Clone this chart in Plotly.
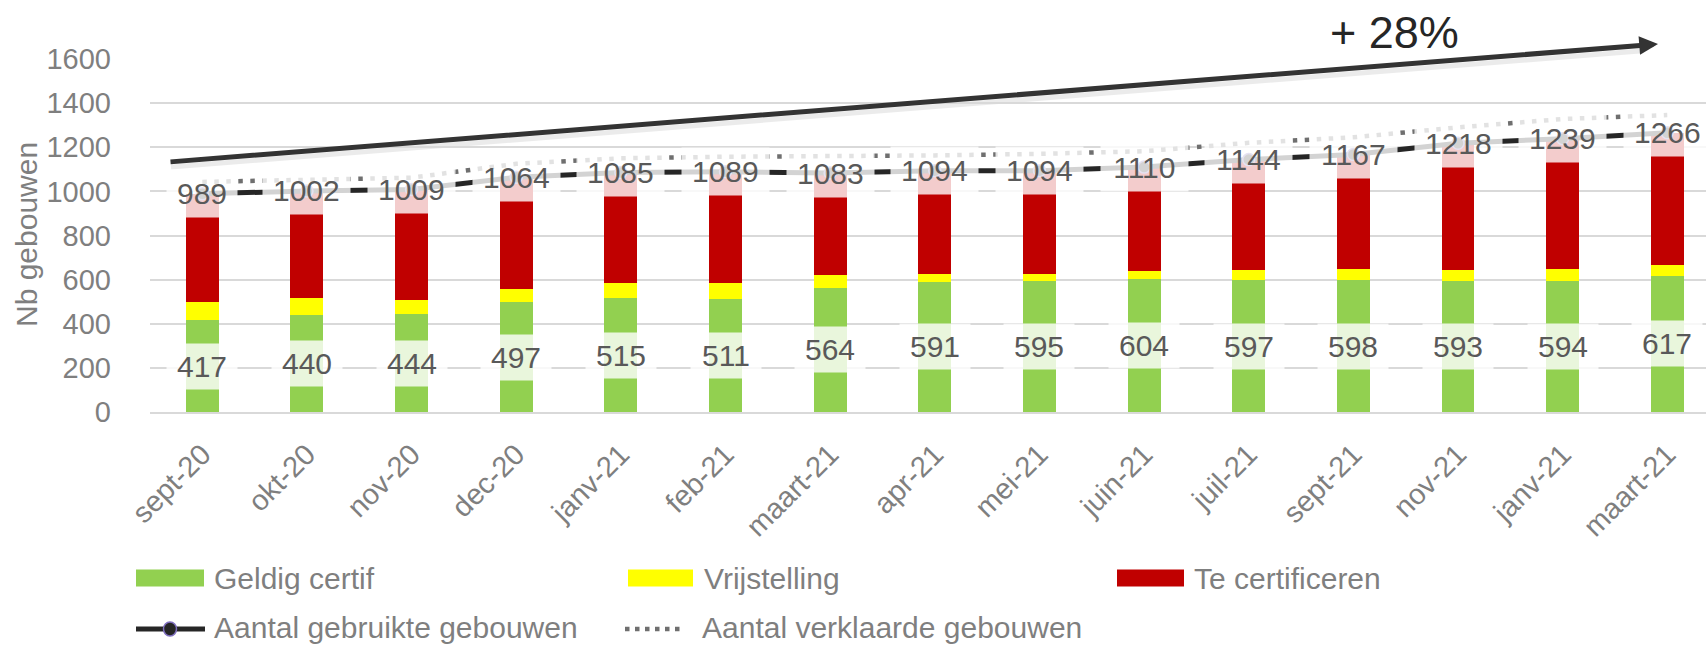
import plotly.graph_objects as go

# ---------------- data ----------------
categories = ["sept-20", "okt-20", "nov-20", "dec-20", "janv-21", "feb-21", "maart-21",
              "apr-21", "mei-21", "juin-21", "juil-21", "sept-21", "nov-21", "janv-21", "maart-21"]
geldig_certif = [417, 440, 444, 497, 515, 511, 564, 591, 595, 604, 597, 598, 593, 594, 617]
vrijstelling = [81, 77, 63, 60, 68, 72, 55, 33, 32, 37, 47, 49, 50, 52, 48]
te_certificeren = [491, 485, 502, 507, 502, 506, 464, 470, 467, 469, 500, 520, 575, 593, 601]
aantal_gebruikte = [989, 1002, 1009, 1064, 1085, 1089, 1083, 1094, 1094, 1110, 1144, 1167, 1218, 1239, 1266]
aantal_verklaarde = [1043, 1053, 1062, 1125, 1150, 1157, 1158, 1163, 1170, 1182, 1220, 1245, 1290, 1328, 1346]
y_ticks = [0, 200, 400, 600, 800, 1000, 1200, 1400, 1600]
trend_label = "+ 28%"
y_title = "Nb gebouwen"
series_names = ["Geldig certif", "Vrijstelling", "Te certificeren",
                "Aantal gebruikte gebouwen", "Aantal verklaarde gebouwen"]

# ---------------- layout constants ----------------
FW, FH = 1706, 646
PL, PR, PT, PB = 150, 1706, 59, 412
PW, PH = PR - PL, PB - PT
FONT = "Arial, 'Liberation Sans', sans-serif"
GREEN, YELLOW, RED = "#92d050", "#ffff00", "#c00000"
DARK = "#262626"
GREY_TXT = "#7f7f7f"
LBL_TXT = "#595959"


def fpx(x):
    return (x - PL) / PW


def fpy(y):
    return (PB - y) / PH


x_idx = list(range(len(categories)))

fig = go.Figure()
fig.add_trace(go.Bar(x=x_idx, y=geldig_certif, name=series_names[0], marker_color=GREEN,
                     marker_line_width=0, showlegend=False))
fig.add_trace(go.Bar(x=x_idx, y=vrijstelling, name=series_names[1], marker_color=YELLOW,
                     marker_line_width=0, showlegend=False))
fig.add_trace(go.Bar(x=x_idx, y=te_certificeren, name=series_names[2], marker_color=RED,
                     marker_line_width=0, showlegend=False))
fig.add_trace(go.Scatter(x=x_idx, y=aantal_verklaarde, name=series_names[4], mode="lines",
                         line=dict(color="#6f6f6f", width=4.5, dash="4.5px,7.5px"),
                         showlegend=False))
fig.add_trace(go.Scatter(x=x_idx, y=aantal_gebruikte, name=series_names[3], mode="lines+markers",
                         line=dict(color=DARK, width=5),
                         marker=dict(size=12, color=DARK, line=dict(color="#7f6fbf", width=1.5)),
                         showlegend=False))

annotations = []


def label_width(v):
    return len(str(v)) * 0.556 * 30 + 20


# labels in the green segment
for i, g in enumerate(geldig_certif):
    annotations.append(dict(x=i, y=g / 2, xref="x", yref="y", text=str(g), showarrow=False,
                            font=dict(family=FONT, size=30, color=LBL_TXT),
                            bgcolor="rgba(255,255,255,0.8)", borderpad=0,
                            width=label_width(g), height=45, xanchor="center", yanchor="middle"))
# labels on the total line
for i, t in enumerate(aantal_gebruikte):
    annotations.append(dict(x=i, y=t, xref="x", yref="y", text=str(t), showarrow=False,
                            font=dict(family=FONT, size=30, color=LBL_TXT),
                            bgcolor="rgba(255,255,255,0.8)", borderpad=0,
                            width=label_width(t), height=47, xanchor="center", yanchor="middle"))

# trend arrow
tip = (1658, 44)
tail = (169, 162)
annotations.append(dict(x=fpx(tip[0]), y=fpy(tip[1]), xref="paper", yref="paper",
                        ax=tail[0] - tip[0], ay=tail[1] - tip[1], axref="pixel", ayref="pixel",
                        text="", showarrow=True, arrowhead=2, arrowsize=0.75, arrowwidth=5,
                        arrowcolor="#333333", standoff=0, startstandoff=0))
annotations.append(dict(x=fpx(1394), y=fpy(32), xref="paper", yref="paper", text=trend_label,
                        showarrow=False, font=dict(family=FONT, size=45, color=DARK),
                        xanchor="center", yanchor="middle"))

# y-axis title
annotations.append(dict(x=fpx(26), y=fpy(235), xref="paper", yref="paper", text=y_title,
                        showarrow=False, textangle=-90,
                        font=dict(family=FONT, size=30, color=GREY_TXT),
                        xanchor="center", yanchor="middle"))

shapes = []
# soft shadow under the trend arrow
shapes.append(dict(type="line", xref="paper", yref="paper",
                   x0=fpx(tail[0] + 2), y0=fpy(tail[1] + 5), x1=fpx(1640), y1=fpy(tip[1] + 7),
                   line=dict(color="rgba(0,0,0,0.08)", width=5), layer="below"))

# ---------------- custom legend ----------------
row1, row2 = 578, 627
LEG_FONT = 30
sw = [(136, 204, GREEN, series_names[0], 212),
      (628, 693, YELLOW, series_names[1], 702),
      (1117, 1184, RED, series_names[2], 1192)]
for x0, x1, col, name, tx in sw:
    shapes.append(dict(type="rect", xref="paper", yref="paper",
                       x0=fpx(x0), x1=fpx(x1), y0=fpy(row1 + 8.5), y1=fpy(row1 - 8.5),
                       fillcolor=col, line=dict(width=0)))
    annotations.append(dict(x=fpx(tx), y=fpy(row1), xref="paper", yref="paper", text=name,
                            showarrow=False, xanchor="left", yanchor="middle",
                            font=dict(family=FONT, size=LEG_FONT, color=GREY_TXT)))
# line legend entries
shapes.append(dict(type="line", xref="paper", yref="paper", x0=fpx(136), x1=fpx(205),
                   y0=fpy(row2 + 2), y1=fpy(row2 + 2), line=dict(color=DARK, width=5)))
shapes.append(dict(type="circle", xref="paper", yref="paper", x0=fpx(163.5), x1=fpx(176.5),
                   y0=fpy(row2 + 9), y1=fpy(row2 - 5), fillcolor=DARK,
                   line=dict(color="#7f6fbf", width=1.5)))
annotations.append(dict(x=fpx(212), y=fpy(row2), xref="paper", yref="paper", text=series_names[3],
                        showarrow=False, xanchor="left", yanchor="middle",
                        font=dict(family=FONT, size=LEG_FONT, color=GREY_TXT)))
shapes.append(dict(type="line", xref="paper", yref="paper", x0=fpx(625), x1=fpx(682),
                   y0=fpy(row2 + 2), y1=fpy(row2 + 2),
                   line=dict(color="#6f6f6f", width=4.5, dash="4.5px,5.5px")))
annotations.append(dict(x=fpx(700), y=fpy(row2), xref="paper", yref="paper", text=series_names[4],
                        showarrow=False, xanchor="left", yanchor="middle",
                        font=dict(family=FONT, size=LEG_FONT, color=GREY_TXT)))

fig.update_layout(
    width=FW, height=FH, autosize=False,
    margin=dict(l=PL, r=FW - PR, t=PT, b=FH - PB, pad=0),
    paper_bgcolor="white", plot_bgcolor="white",
    barmode="stack", bargap=0.685,
    showlegend=False,
    annotations=annotations, shapes=shapes,
    font=dict(family=FONT, color=GREY_TXT),
)
fig.update_xaxes(range=[-0.5, 14.37], tickmode="array", tickvals=x_idx, ticktext=categories,
                 tickangle=-45, tickfont=dict(family=FONT, size=29, color=GREY_TXT),
                 showgrid=False, showline=True, linecolor="#d9d9d9", linewidth=1.5,
                 ticks="", ticklabelstandoff=12, zeroline=False)
fig.update_yaxes(range=[0, 1600], tickmode="array", tickvals=y_ticks,
                 tickfont=dict(family=FONT, size=29, color=GREY_TXT),
                 showgrid=True, gridcolor="#d9d9d9", gridwidth=1.5,
                 zeroline=False, showline=False, ticks="", ticklabelstandoff=38)

fig.write_html("out.html", config={"displayModeBar": False, "responsive": False},
               post_script="document.body.style.margin='0';document.body.style.overflow='hidden';")
